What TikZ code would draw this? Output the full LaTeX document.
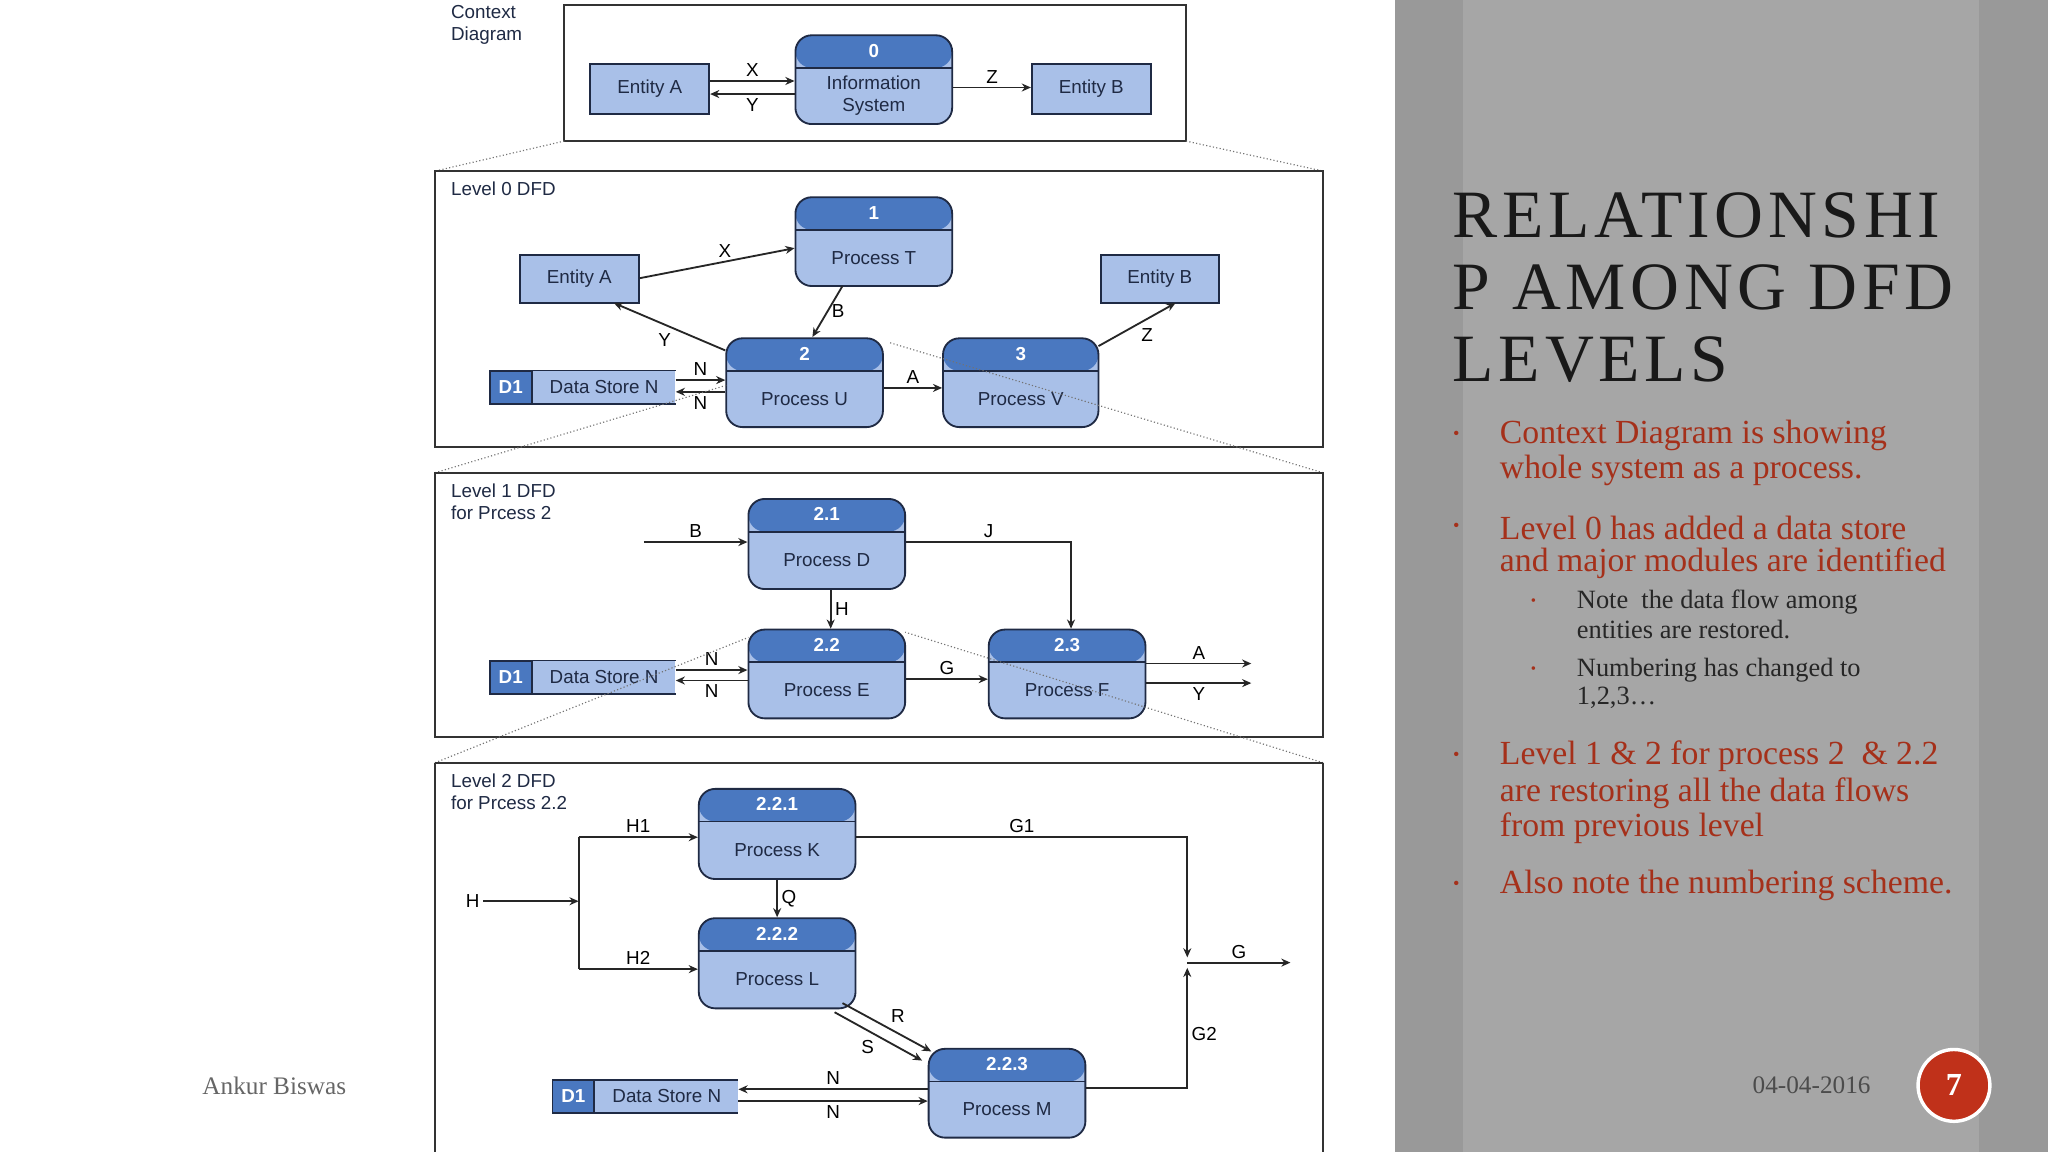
\documentclass[tikz,border=0pt]{standalone}
\usepackage{fontspec}
\setmainfont{Liberation Serif}
\newfontfamily\dsans{Liberation Sans}
\newfontfamily\ttl[LetterSpace=7]{Liberation Serif}
\usetikzlibrary{fit,arrows.meta,calc}
\definecolor{hdr}{HTML}{4A78C0}
\definecolor{body}{HTML}{A9C0E8}
\definecolor{dk}{HTML}{1F2A44}
\definecolor{red1}{HTML}{A5301A}
\tikzset{
 x=0.02cm,y=-0.02cm,
 df/.style={font=\dsans\fontsize{8.2}{9.5}\selectfont, text=dk},
 frame/.style={draw=black!80, line width=0.8pt},
 dots/.style={draw=black!55, densely dotted, line width=0.5pt},
 ent/.style={draw=dk, line width=0.8pt, fill=body, inner sep=0pt},
 procbox/.style={draw=dk, line width=0.8pt, fill=body, rounded corners=0.25cm, inner sep=0pt,
   path picture={\fill[hdr] (path picture bounding box.north west) rectangle ([yshift=-0.5cm]path picture bounding box.north east);
   \draw[dk, line width=0.8pt] ([yshift=-0.5cm]path picture bounding box.north west) -- ([yshift=-0.5cm]path picture bounding box.north east);}},
 arr/.style={-{Stealth[length=4pt,width=3.5pt]}, line width=0.8pt, draw=black!85},
 lbl/.style={df, text=black, inner sep=1.5pt},
 bul/.style={anchor=west, text=red1, font=\fontsize{14.7}{16}\selectfont, inner sep=0},
 sub/.style={anchor=west, text=black!85, font=\fontsize{11.5}{13}\selectfont, inner sep=0},
}
\newcommand\proc[7]{\node[procbox, fit={(#2,#3)(#4,#5)}] (#1) {};
 \node[df, text=white, font=\dsans\bfseries\fontsize{8.2}{9.5}\selectfont] at ([yshift=-0.25cm]#1.north) {#6};
 \node[df, align=center] at ([yshift=-0.25cm]#1.center) {#7};}
\newcommand\ent[6]{\node[ent, fit={(#2,#3)(#4,#5)}] (#1) {}; \node[df] at (#1) {#6};}
\newcommand\store[5]{\node[fill=body, inner sep=0, fit={(#2,#3)(#4,#5)}] (#1) {};
 \draw[dk, line width=0.8pt] (#1.north west) -- (#1.north east) (#1.south west) -- (#1.south east);
 \node[fill=hdr, draw=dk, line width=0.8pt, inner sep=0, fit={(#2,#3)(#2+32,#5)}] (#1d) {};
 \node[df, text=white, font=\dsans\bfseries\fontsize{8.2}{9.5}\selectfont] at (#1d) {D1};
 \node[df] at ($(#1d.east)!0.5!(#1.east)$) {Data Store N};}
\begin{document}
\begin{tikzpicture}
\useasboundingbox (0,0) rectangle (1568,882);
\fill[white] (0,0) rectangle (1068,882);
\fill[black!40] (1068,0) rectangle (1568,882);
\fill[black!35] (1120,0) rectangle (1515,882);
% ---------- context
\draw[frame] (432,4) rectangle (908,108);
\node[df, anchor=north west, align=left, inner sep=0] (tc) at (345,4) {Context\\Diagram};
\ent{ca}{452}{49}{543}{87}{Entity A}
\proc{cis}{609}{27}{729}{95}{0}{Information\\System}
\ent{cb}{790}{49}{881}{87}{Entity B}
\draw[arr] (ca.east|-0,62) -- node[lbl,above]{X} (cis.west|-0,62);
\draw[arr] (cis.west|-0,72) -- node[lbl,below]{Y} (ca.east|-0,72);
\draw[arr] (cis.east|-0,67) -- node[lbl,above]{Z} (cb.west|-0,67);
\draw[dots] (432,108) -- (333,131) (908,108) -- (1013,131);
% ---------- level 0
\draw[frame] (333,131) rectangle (1013,342);
\node[df, anchor=north west, inner sep=0] (t0) at (345,139) {Level 0 DFD};
\ent{ea}{398}{195}{489}{232}{Entity A}
\proc{pt}{609}{151}{729}{219}{1}{Process T}
\ent{eb}{843}{195}{933}{232}{Entity B}
\proc{pu}{556}{259}{676}{327}{2}{Process U}
\proc{pv}{722}{259}{841}{327}{3}{Process V}
\store{s0}{375}{284}{517}{309}
\draw[arr] (ea.east|-0,213) -- node[lbl,above,pos=0.55]{X} (pt.west|-0,190);
\draw[arr] (pu.north west) ++(0,10) coordinate (u1) (u1) -- node[lbl,below left,pos=0.45]{Y} (470,232) coordinate (ya);
\draw[arr] (645,219) coordinate (b1) -- node[lbl,right]{B} (622,258) coordinate (b2);
\draw[arr] (pu.east|-0,297) -- node[lbl,above]{A} (pv.west|-0,297);
\draw[arr] (841,265) coordinate (z1) -- node[lbl,below right]{Z} (900,232) coordinate (z2);
\draw[arr] (s0.east|-0,291) -- node[lbl,above]{N} (pu.west|-0,291);
\draw[arr] (pu.west|-0,300) -- node[lbl,below]{N} (s0.east|-0,300);
\draw[dots] (333,362) -- (556,295) (1013,362) -- (680,262);
% ---------- level 1
\draw[frame] (333,362) rectangle (1013,564);
\node[df, anchor=north west, align=left, inner sep=0] (t1) at (345,370) {Level 1 DFD\\for Prcess 2};
\proc{pd}{573}{382}{693}{451}{2.1}{Process D}
\proc{pe}{573}{482}{693}{550}{2.2}{Process E}
\proc{pf}{757}{482}{877}{550}{2.3}{Process F}
\store{s1}{375}{506}{517}{531}
\coordinate (bin) at (493,415);
\draw[arr] (bin) -- node[lbl,above]{B} (pd.west|-0,415);
\draw[arr] (pd.east|-0,415) -- node[lbl,above,pos=0.5]{J} (820,415) -- (pf.north-|820,0);
\draw[arr] (pd.south-|636,0) -- node[lbl,right]{H} (pe.north-|636,0);
\draw[arr] (pe.east|-0,520) -- node[lbl,above]{G} (pf.west|-0,520);
\coordinate (ao) at (958,508); \coordinate (yo) at (958,523);
\draw[arr] (pf.east|-0,508) -- node[lbl,above]{A} (ao);
\draw[arr] (pf.east|-0,523) -- node[lbl,below]{Y} (yo);
\draw[arr] (s1.east|-0,513) -- node[lbl,above]{N} (pe.west|-0,513);
\draw[arr] (pe.west|-0,521) -- node[lbl,below]{N} (s1.east|-0,521);
\draw[dots] (333,584) -- (573,488) (1013,584) -- (693,484);
% ---------- level 2
\draw[frame] (333,584) -- (333,882) (1013,584) -- (1013,882) (333,584) -- (1013,584);
\node[df, anchor=north west, align=left, inner sep=0] (t2) at (345,592) {Level 2 DFD\\for Prcess 2.2};
\proc{pk}{535}{604}{655}{673}{2.2.1}{Process K}
\proc{pl}{535}{703}{655}{772}{2.2.2}{Process L}
\proc{pm}{711}{803}{831}{871}{2.2.3}{Process M}
\store{s2}{423}{827}{565}{852}
\coordinate (hin) at (370,690); \coordinate (hj) at (443,690);
\coordinate (h1) at (443,641); \coordinate (h2) at (443,742);
\draw[arr] (hin) -- (hj);
\node[lbl,left] at (hin) {H};
\draw[line width=0.8pt, black!85] (h1) -- (h2);
\draw[arr] (h1) -- node[lbl,above]{H1} (pk.west|-h1);
\draw[arr] (h2) -- node[lbl,above]{H2} (pl.west|-h2);
\draw[arr] (pk.south-|595,0) -- node[lbl,right]{Q} (pl.north-|595,0);
\coordinate (gj) at (909,737); \coordinate (gout) at (988,737);
\draw[arr] (pk.east|-0,641) -- node[lbl,above]{G1} (909,641) -- (909,733);
\draw[arr] (pm.east|-0,833) -- (909,833) -- node[lbl,right,pos=0.45]{G2} (909,741);
\draw[arr] (gj) -- node[lbl,above]{G} (gout);
\draw[arr] (645,768) -- node[lbl,above right]{R} (713,805);
\draw[arr] (639,775) -- node[lbl,below left]{S} (706,812);
\draw[arr] (pm.west|-0,834) -- node[lbl,above]{N} (s2.east|-0,834);
\draw[arr] (s2.east|-0,843) -- node[lbl,below]{N} (pm.west|-0,843);
% ---------- footer
\node[text=black!60, font=\fontsize{11}{13}\selectfont] (au) at (210,831) {Ankur Biswas};
\node[text=black!70, font=\fontsize{11}{13}\selectfont] (dt) at (1387,831) {04-04-2016};
\node[circle, fill={rgb,255:red,192;green,49;blue,26}, draw=white, line width=1.5pt, minimum size=1.1cm, text=white, font=\bfseries\fontsize{14}{16}\selectfont] (pg) at (1496,831) {7};
% ---------- right text
\node[anchor=west, inner sep=0, text=black!90, align=left, font=\ttl\fontsize{29.5}{31.3}\selectfont] (title) at (1112,220) {RELATIONSHI\\P AMONG DFD\\LEVELS};
\foreach \y in {333,404,579,678} {\node[text=red1, font=\fontsize{8}{10}\selectfont] at (1115,\y) {\textbullet};}
\foreach \y in {461,513} {\node[text=red1, font=\fontsize{6.5}{8}\selectfont] at (1174,\y) {\textbullet};}
\node[bul] at (1148,333) {Context Diagram is showing};
\node[bul] at (1148,360) {whole system as a process.};
\node[bul] at (1148,404) {Level 0 has added a data store};
\node[bul] at (1148,431) {and major modules are identified};
\node[sub] at (1207,461) {Note\ \ the data flow among};
\node[sub] at (1207,482) {entities are restored.};
\node[sub] at (1207,513) {Numbering has changed to};
\node[sub] at (1207,534) {1,2,3\dots};
\node[bul] at (1148,579) {Level 1 \& 2 for process 2\ \ \& 2.2};
\node[bul] at (1148,607) {are restoring all the data flows};
\node[bul] at (1148,634) {from previous level};
\node[bul] at (1148,678) {Also note the numbering scheme.};
\end{tikzpicture}
\end{document}
